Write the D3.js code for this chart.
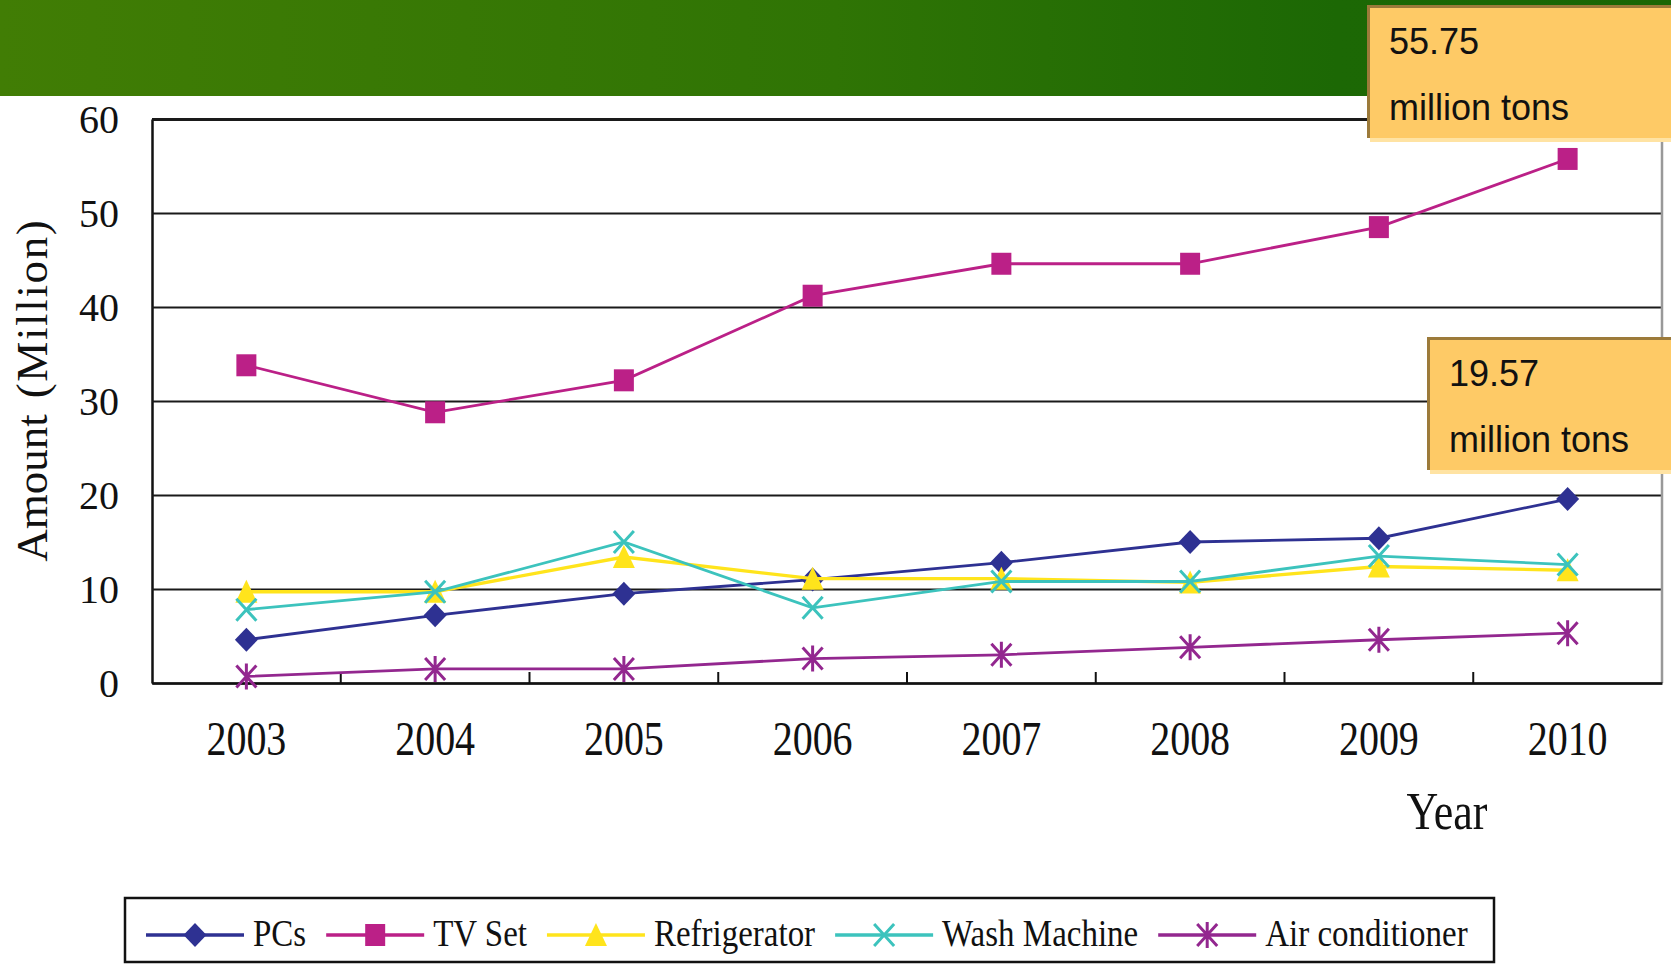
<!DOCTYPE html>
<html>
<head>
<meta charset="utf-8">
<script src="https://cdn.jsdelivr.net/npm/d3@7"></script>
<style>
  body { margin: 0; background: #fff; }
  svg { display: block; }
  .serif { font-family: "Liberation Serif", "Times New Roman", serif; fill: #111; }
  .callout text { font-family: "Liberation Sans", Arial, sans-serif; font-size: 36px; fill: #111; }
</style>
</head>
<body>
<div id="chart"></div>
<script>
// data
const years = ["2003", "2004", "2005", "2006", "2007", "2008", "2009", "2010"];
const pcs = [4.6, 7.2, 9.5, 11.0, 12.8, 15.0, 15.4, 19.57];
const tvSet = [33.8, 28.8, 32.2, 41.2, 44.6, 44.6, 48.5, 55.75];
const refrigerator = [9.7, 9.7, 13.4, 11.1, 11.1, 10.7, 12.4, 12.0];
const washMachine = [7.8, 9.7, 15.0, 8.0, 10.8, 10.8, 13.5, 12.6];
const airConditioner = [0.7, 1.5, 1.5, 2.6, 3.0, 3.8, 4.6, 5.3];

const seriesNames = ["PCs", "TV Set", "Refrigerator", "Wash Machine", "Air conditioner"];
const yTicks = [0, 10, 20, 30, 40, 50, 60];

const seriesStyle = {
  "PCs": { color: "#2E3192", marker: "diamond" },
  "TV Set": { color: "#BB2087", marker: "square" },
  "Refrigerator": { color: "#FFE41C", marker: "triangle" },
  "Wash Machine": { color: "#3CC3BD", marker: "cross" },
  "Air conditioner": { color: "#93278F", marker: "asterisk" }
};

const series = [pcs, tvSet, refrigerator, washMachine, airConditioner]
  .map((values, i) => ({ name: seriesNames[i], values: values }));

// marker shapes, centred on 0,0
const markerPath = {
  diamond: "M0,-12L11.5,0L0,12L-11.5,0Z",
  square: "M-10,-11H10V11H-10Z",
  triangle: "M0,-12L11,11L-11,11Z",
  cross: "M-10,-11L10,11M10,-11L-10,11",
  asterisk: "M-10,-11L10,11M10,-11L-10,11M0,-13V13"
};
const strokeOnly = { cross: true, asterisk: true };

class LineChart {
  constructor(_config) {
    this.config = {
      parentElement: _config.parentElement,
      containerWidth: 1671,
      containerHeight: 966,
      margin: { top: 119, right: 9, bottom: 283, left: 152 }
    };
    this.initVis();
  }

  initVis() {
    let vis = this;

    vis.width = vis.config.containerWidth - vis.config.margin.left - vis.config.margin.right;
    vis.height = vis.config.containerHeight - vis.config.margin.top - vis.config.margin.bottom;

    vis.svg = d3.select(vis.config.parentElement)
      .append("svg")
      .attr("width", vis.config.containerWidth)
      .attr("height", vis.config.containerHeight);

    // green header band
    const grad = vis.svg.append("defs").append("linearGradient")
      .attr("id", "hdr")
      .attr("x1", "0%").attr("x2", "100%");
    grad.append("stop").attr("offset", "0%").attr("stop-color", "#417D05");
    grad.append("stop").attr("offset", "50%").attr("stop-color", "#2F7405");
    grad.append("stop").attr("offset", "80%").attr("stop-color", "#1C6805");
    grad.append("stop").attr("offset", "100%").attr("stop-color", "#1A6605");

    vis.svg.append("rect")
      .attr("x", 0).attr("y", 0)
      .attr("width", vis.config.containerWidth)
      .attr("height", 96)
      .attr("fill", "url(#hdr)");

    vis.chart = vis.svg.append("g")
      .attr("transform", `translate(${vis.config.margin.left},${vis.config.margin.top})`);

    vis.xScale = d3.scaleBand().domain(years).range([0, vis.width]);
    vis.yScale = d3.scaleLinear().domain([0, 60]).range([vis.height, 0]);

    vis.updateVis();
  }

  updateVis() {
    let vis = this;
    const x = d => vis.xScale(d) + vis.xScale.bandwidth() / 2;

    // y axis + gridlines
    const yAxisG = vis.chart.append("g")
      .call(d3.axisLeft(vis.yScale).tickValues(yTicks).tickSize(-vis.width).tickSizeOuter(0).tickPadding(33));
    yAxisG.select(".domain").attr("stroke", "#111").attr("stroke-width", 2.5);
    yAxisG.selectAll(".tick line").attr("stroke", "#1a1a1a").attr("stroke-width", 2);
    yAxisG.selectAll(".tick").filter(d => d === 60).select("line").attr("stroke-width", 3);
    yAxisG.selectAll(".tick text")
      .attr("class", "serif")
      .style("font-size", "40px")
      .attr("dy", "0.33em");

    // right border
    vis.chart.append("line")
      .attr("x1", vis.width).attr("x2", vis.width)
      .attr("y1", 0).attr("y2", vis.height)
      .attr("stroke", "#999").attr("stroke-width", 2.5);

    // x axis
    const xAxisG = vis.chart.append("g")
      .attr("transform", `translate(0,${vis.height})`)
      .call(d3.axisBottom(vis.xScale).tickSize(0).tickSizeOuter(0));
    xAxisG.select(".domain").attr("stroke", "#111").attr("stroke-width", 2.5);
    xAxisG.selectAll(".tick text")
      .attr("class", "serif")
      .style("font-size", "40px")
      .attr("y", 60).attr("dy", 0)
      .attr("transform", "scale(1,1.2)");

    // inner ticks at band edges
    vis.chart.append("g").selectAll("line")
      .data(years.slice(1))
      .join("line")
      .attr("x1", d => vis.xScale(d)).attr("x2", d => vis.xScale(d))
      .attr("y1", vis.height).attr("y2", vis.height - 11)
      .attr("stroke", "#111").attr("stroke-width", 2);

    // axis titles
    const yTitle = vis.svg.append("text")
      .attr("class", "serif")
      .attr("transform", "translate(47,391) rotate(-90)")
      .attr("text-anchor", "middle")
      .style("font-size", "45px");
    yTitle.append("tspan").text("Amount");
    yTitle.append("tspan").attr("dx", 16)
      .attr("textLength", 178).attr("lengthAdjust", "spacing")
      .text("(Million)");

    vis.svg.append("text")
      .attr("class", "serif")
      .attr("transform", "translate(1447,829) scale(1,1.2)")
      .attr("text-anchor", "middle")
      .style("font-size", "44px")
      .text("Year");

    // lines + markers
    const line = d3.line()
      .x((d, i) => x(years[i]))
      .y(d => vis.yScale(d));

    const sG = vis.chart.selectAll(".series")
      .data(series)
      .join("g")
      .attr("class", "series");

    sG.append("path")
      .attr("d", d => line(d.values))
      .attr("fill", "none")
      .attr("stroke", d => seriesStyle[d.name].color)
      .attr("stroke-width", d => d.name === "Refrigerator" ? 3.4 : 2.8);

    sG.each(function(s) {
      const st = seriesStyle[s.name];
      d3.select(this).selectAll(".mk")
        .data(s.values)
        .join("path")
        .attr("class", "mk")
        .attr("transform", (d, i) => `translate(${x(years[i])},${vis.yScale(d)})`)
        .attr("d", markerPath[st.marker])
        .attr("fill", strokeOnly[st.marker] ? "none" : st.color)
        .attr("stroke", st.color)
        .attr("stroke-width", strokeOnly[st.marker] ? 3 : 0);
    });

    // legend
    const leg = vis.svg.append("g");
    leg.append("rect")
      .attr("x", 125).attr("y", 898)
      .attr("width", 1369).attr("height", 64)
      .attr("fill", "#fff").attr("stroke", "#111").attr("stroke-width", 2.5);

    let cx = 146;
    const ly = 935;
    const lineLen = 98;
    seriesNames.forEach(name => {
      const st = seriesStyle[name];
      const item = leg.append("g");
      item.append("line")
        .attr("x1", cx).attr("x2", cx + lineLen)
        .attr("y1", ly).attr("y2", ly)
        .attr("stroke", st.color).attr("stroke-width", 3.5);
      item.append("path")
        .attr("transform", `translate(${cx + lineLen / 2},${ly})`)
        .attr("d", markerPath[st.marker])
        .attr("fill", strokeOnly[st.marker] ? "none" : st.color)
        .attr("stroke", st.color)
        .attr("stroke-width", strokeOnly[st.marker] ? 3 : 0);
      const t = item.append("text")
        .attr("class", "serif")
        .attr("transform", `translate(${cx + lineLen + 9},${ly + 11}) scale(1,1.12)`)
        .style("font-size", "33px")
        .text(name);
      cx += lineLen + 9 + t.node().getComputedTextLength() + 20;
    });

    // callout boxes for the 2010 values
    const fmt = d3.format(".2f");
    const callouts = [
      { value: tvSet[7], x: 1367, y: 5, h: 133 },
      { value: pcs[7], x: 1427, y: 337, h: 133 }
    ];
    const cG = vis.svg.selectAll(".callout")
      .data(callouts)
      .join("g")
      .attr("class", "callout");
    cG.append("rect")
      .attr("x", d => d.x + 3).attr("y", d => d.y + d.h)
      .attr("width", d => 1671 - d.x).attr("height", 4)
      .attr("fill", "#FFE3A3");
    cG.append("rect")
      .attr("x", d => d.x).attr("y", d => d.y)
      .attr("width", d => 1671 - d.x).attr("height", d => d.h)
      .attr("fill", "#FECA66");
    cG.append("path")
      .attr("d", d => `M${d.x + 1.5},${d.y + d.h}V${d.y + 1.5}H1671`)
      .attr("fill", "none")
      .attr("stroke", "#9C7A3A").attr("stroke-width", 3);
    cG.append("text")
      .attr("x", d => d.x + 22).attr("y", d => d.y + 49)
      .text(d => fmt(d.value));
    cG.append("text")
      .attr("x", d => d.x + 22).attr("y", d => d.y + 115)
      .text("million tons");
  }
}

new LineChart({ parentElement: "#chart" });
</script>
</body>
</html>
